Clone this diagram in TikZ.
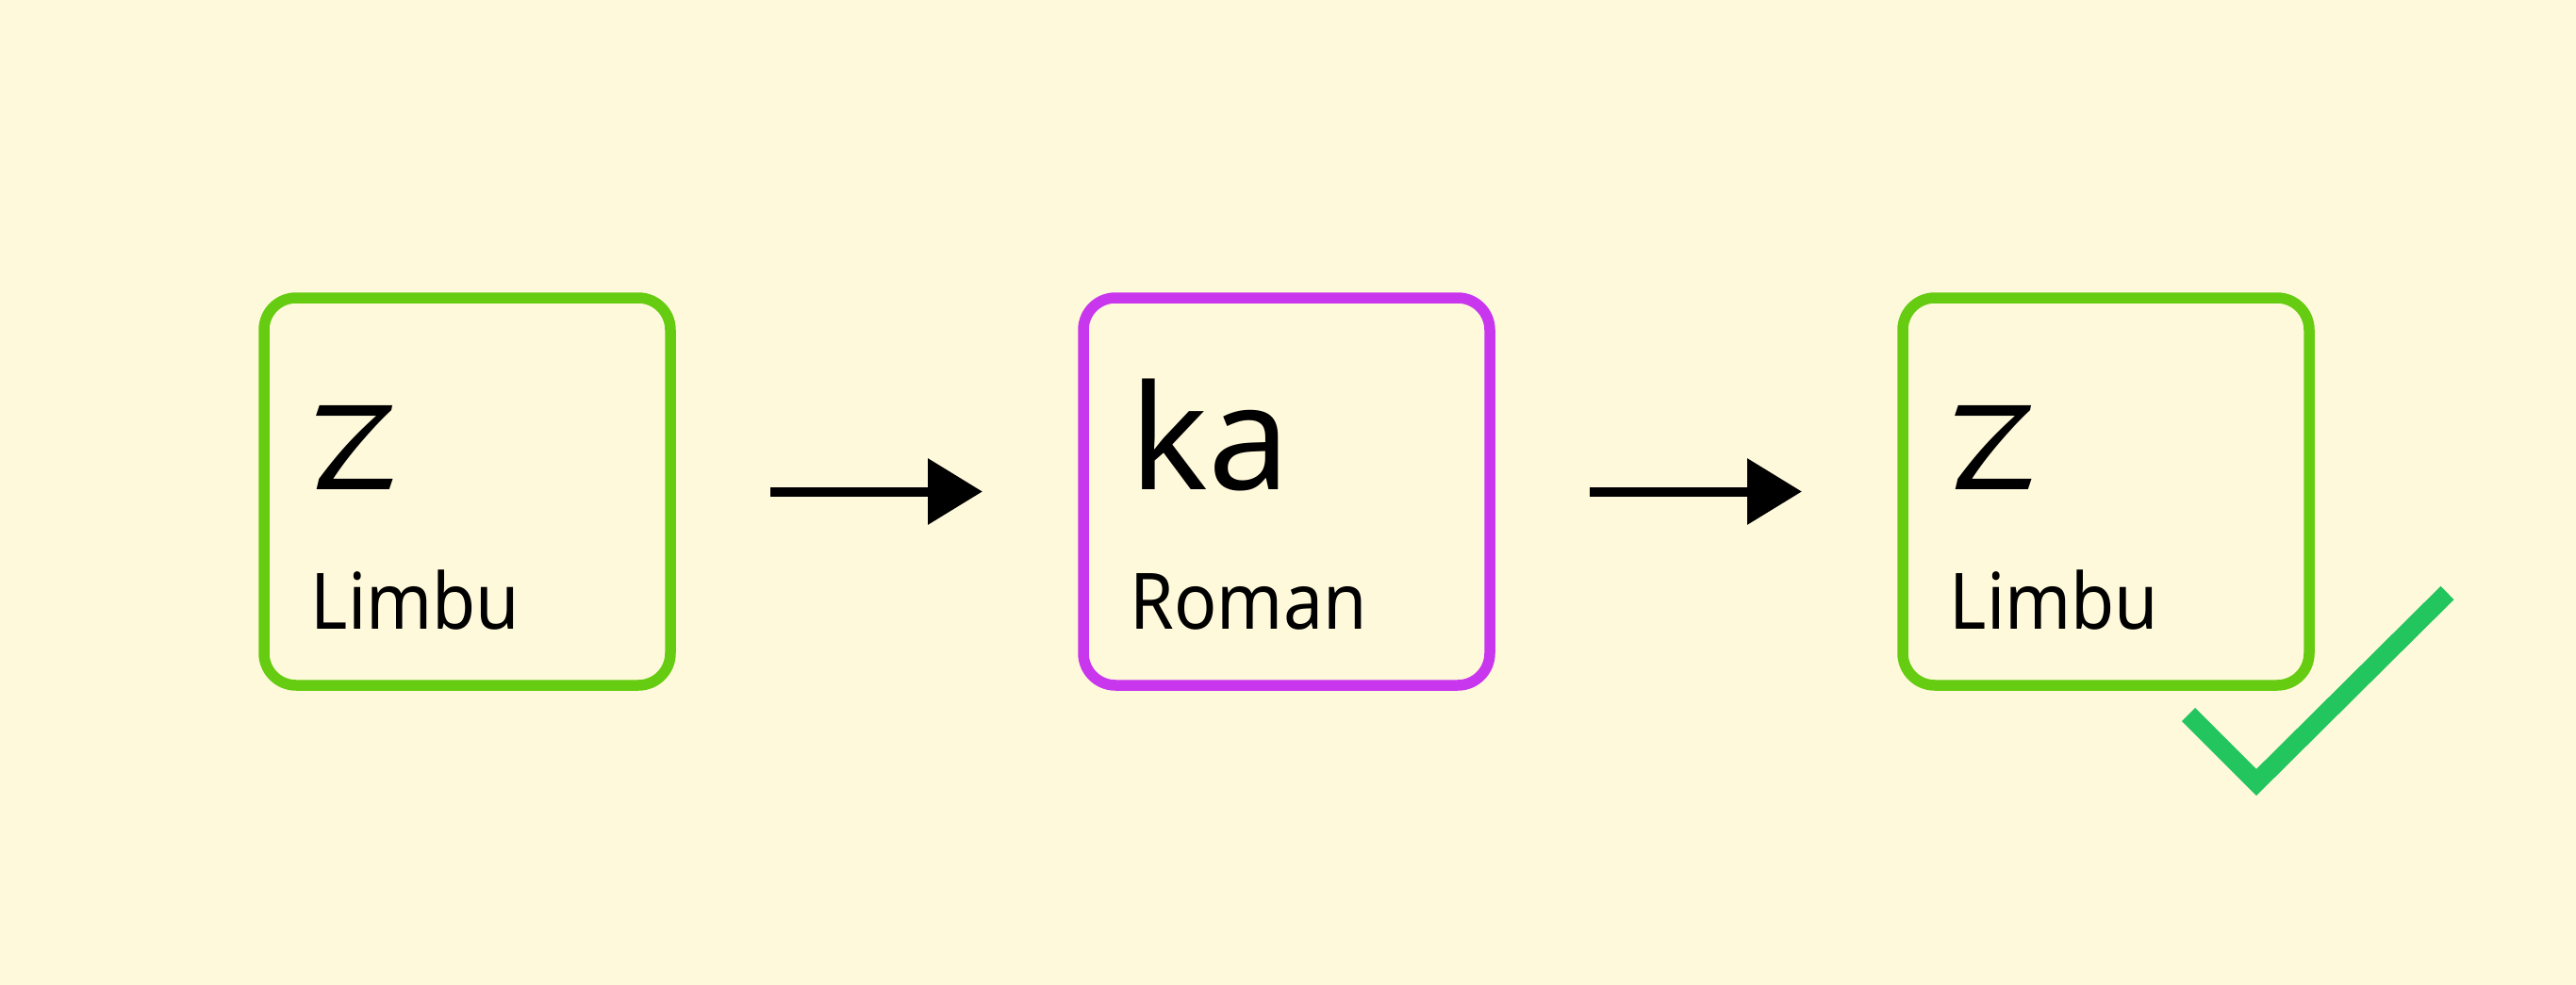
\documentclass[tikz,border=0pt]{standalone}
\usepackage{fontspec}
\setmainfont{Noto Sans}
\newfontfamily\limbufont[Script=Limbu]{Noto Sans Limbu}
\newfontfamily\namefont[FakeStretch=0.91]{Noto Sans}
\usetikzlibrary{arrows.meta,positioning}
\definecolor{bgyellow}{RGB}{255,249,219}
\definecolor{limbugreen}{RGB}{102,204,17}
\definecolor{romanpurple}{RGB}{200,54,238}
\definecolor{okgreen}{RGB}{34,197,94}
\tikzset{
  card/.style={draw, line width=0.115cm, rounded corners=0.34cm, minimum width=4.31cm, minimum height=4.11cm, outer sep=0pt, inner sep=0pt},
  glyph/.style={anchor=base west, inner sep=0pt, font=\fontsize{44}{50}\selectfont},
  script/.style={anchor=base west, inner sep=0pt, font=\namefont\fontsize{23.5}{28}\selectfont},
  step arrow/.style={line width=0.1cm, -{Triangle[length=0.58cm, width=0.68cm]}, shorten <=1.06cm, shorten >=1.07cm}
}
\begin{document}
\begin{tikzpicture}
	\fill[bgyellow] (0,0) rectangle (27.32,-10.45);
	\useasboundingbox (0,0) rectangle (27.32,-10.45);

	% the three cards
	\node[card, draw=limbugreen] (src) at (4.955,-5.215) {};
	\node[card, draw=romanpurple] (mid) at (13.645,-5.215) {};
	\node[card, draw=limbugreen] (dst) at (22.335,-5.215) {};

	\node[glyph] (srcglyph) at ([shift={(0.49,-2.03)}]src.north west) {\limbufont ᤁ};
	\node[script] (srcname) at ([shift={(0.49,-3.51)}]src.north west) {Limbu};
	\node[glyph] (midglyph) at ([shift={(0.49,-2.03)}]mid.north west) {ka};
	\node[script] (midname) at ([shift={(0.49,-3.51)}]mid.north west) {Roman};
	\node[glyph] (dstglyph) at ([shift={(0.49,-2.03)}]dst.north west) {\limbufont ᤁ};
	\node[script] (dstname) at ([shift={(0.49,-3.51)}]dst.north west) {Limbu};

	% arrows
	\draw[step arrow] (src.east) -- (mid.west);
	\draw[step arrow] (mid.east) -- (dst.west);

	% tick
	\draw[okgreen, line width=0.2cm, miter limit=10] (23.21,-7.58) -- (23.93,-8.30) -- (25.955,-6.29);
\end{tikzpicture}
\end{document}
